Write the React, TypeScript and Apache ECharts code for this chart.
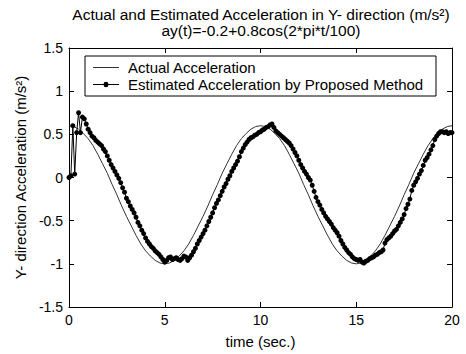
import React, { useEffect, useRef } from "react";
import * as echarts from "echarts";

// ---- data ----
const ACTUAL_STEP = 0.25; // seconds between actual samples
const ESTIMATED_STEP = 0.1; // seconds between estimated samples

const actualValues: number[] = [
  0.6, 0.59, 0.56, 0.51, 0.45, 0.37, 0.27, 0.16, 0.05, -0.08, -0.2, -0.33, -0.45, -0.56, -0.67, -0.77, -0.85, -0.91, -0.96, -0.99, -1.0,
  -0.99, -0.96, -0.91, -0.85, -0.77, -0.67, -0.56, -0.45, -0.33, -0.2, -0.08, 0.05, 0.16, 0.27, 0.37, 0.45, 0.51, 0.56, 0.59, 0.6,
  0.59, 0.56, 0.51, 0.45, 0.37, 0.27, 0.16, 0.05, -0.08, -0.2, -0.33, -0.45, -0.56, -0.67, -0.77, -0.85, -0.91, -0.96, -0.99, -1.0,
  -0.99, -0.96, -0.91, -0.85, -0.77, -0.67, -0.56, -0.45, -0.33, -0.2, -0.08, 0.05, 0.16, 0.27, 0.37, 0.45, 0.51, 0.56, 0.59, 0.6,
];

const estimatedValues: number[] = [
  0.0, 0.02, 0.6, 0.04, 0.52, 0.75, 0.52, 0.7, 0.68, 0.62,
  0.56, 0.52, 0.48, 0.46, 0.43, 0.41, 0.39, 0.37, 0.33, 0.3,
  0.25, 0.2, 0.15, 0.11, 0.07, 0.03, -0.01, -0.06, -0.12, -0.17,
  -0.24, -0.28, -0.33, -0.37, -0.41, -0.46, -0.52, -0.56, -0.61, -0.65,
  -0.7, -0.74, -0.77, -0.8, -0.82, -0.85, -0.87, -0.89, -0.92, -0.95,
  -0.98, -0.96, -0.93, -0.92, -0.95, -0.94, -0.93, -0.95, -0.96, -0.94,
  -0.91, -0.92, -0.96, -0.93, -0.9, -0.86, -0.82, -0.77, -0.73, -0.69,
  -0.65, -0.61, -0.56, -0.51, -0.46, -0.41, -0.35, -0.3, -0.26, -0.21,
  -0.16, -0.11, -0.07, -0.02, 0.02, 0.07, 0.11, 0.15, 0.19, 0.24,
  0.3, 0.34, 0.38, 0.41, 0.44, 0.46, 0.47, 0.49, 0.5, 0.52,
  0.53, 0.55, 0.56, 0.58, 0.59, 0.61, 0.62, 0.58, 0.54, 0.52,
  0.5, 0.48, 0.46, 0.44, 0.42, 0.4, 0.37, 0.33, 0.29, 0.25,
  0.2, 0.15, 0.11, 0.07, 0.04, 0.0, -0.03, -0.09, -0.16, -0.23,
  -0.28, -0.32, -0.37, -0.41, -0.45, -0.48, -0.51, -0.54, -0.58, -0.61,
  -0.64, -0.68, -0.73, -0.77, -0.81, -0.84, -0.87, -0.89, -0.92, -0.94,
  -0.95, -0.96, -0.95, -0.98, -0.99, -0.97, -0.96, -0.94, -0.93, -0.92,
  -0.9, -0.89, -0.87, -0.86, -0.84, -0.76, -0.72, -0.7, -0.68, -0.65,
  -0.62, -0.6, -0.56, -0.52, -0.48, -0.43, -0.36, -0.31, -0.25, -0.15,
  -0.09, -0.05, -0.01, 0.04, 0.08, 0.14, 0.2, 0.23, 0.27, 0.32,
  0.37, 0.44, 0.48, 0.51, 0.53, 0.53, 0.52, 0.53, 0.51, 0.52,
  0.52,
];

const X_MIN = 0;
const X_MAX = 20;
const X_INTERVAL = 5;
const Y_MIN = -1.5;
const Y_MAX = 1.5;
const Y_INTERVAL = 0.5;

const SERIES_NAMES = ["Actual Acceleration", "Estimated Acceleration by Proposed Method"];
const TITLE_LINE_1 = "Actual and Estimated Acceleration in Y- direction (m/s²)";
const TITLE_LINE_2 = "ay(t)=-0.2+0.8cos(2*pi*t/100)";
const X_NAME = "time (sec.)";
const Y_NAME = "Y- direction Acceleration (m/s²)";

const FONT = "'Liberation Sans', Arial, Helvetica, sans-serif";

// legend icons: a plain line, and a line with a dot
const ICON_LINE = "path://M0,0L26,0L26,1L0,1Z";
const ICON_LINE_DOT =
  "path://M0,2.6L10.6,2.6A2.4,2.4,0,0,1,15.4,2.6L26,2.6L26,3.4L15.4,3.4A2.4,2.4,0,0,1,10.6,3.4L0,3.4Z";

export default function App() {
  const ref = useRef<HTMLDivElement | null>(null);

  useEffect(() => {
    if (!ref.current) return;
    const chart = echarts.init(ref.current, undefined, { renderer: "svg" });

    const actualData = actualValues.map((v, i) => [+(i * ACTUAL_STEP).toFixed(2), v]);
    const estimatedData = estimatedValues.map((v, i) => [+(i * ESTIMATED_STEP).toFixed(2), v]);

    const axisLine = { show: true, onZero: false, lineStyle: { color: "#000", width: 1 } };
    const axisTick = { show: true, inside: true, length: 5, lineStyle: { color: "#000", width: 1 } };
    const labelStyle = { color: "#000", fontSize: 14, fontFamily: FONT };
    const bigText = { color: "#000", fontSize: 15, fontFamily: FONT };

    chart.setOption({
      animation: false,
      backgroundColor: "#fff",
      textStyle: { fontFamily: FONT },
      grid: { left: 69, right: 14, top: 48, bottom: 46, containLabel: false },
      graphic: [
        {
          type: "text",
          x: 261,
          y: 14,
          style: {
            text: TITLE_LINE_1,
            fontSize: 15.5,
            fontFamily: FONT,
            fill: "#000",
            align: "center",
            verticalAlign: "middle",
          },
        },
        {
          type: "text",
          x: 261,
          y: 30,
          style: {
            text: TITLE_LINE_2,
            fontSize: 15.5,
            fontFamily: FONT,
            fill: "#000",
            align: "center",
            verticalAlign: "middle",
          },
        },
      ],
      legend: {
        orient: "vertical",
        left: 85,
        top: 56,
        padding: [4, 12, 4, 8],
        itemGap: 2,
        itemWidth: 26,
        itemHeight: 14,
        symbolKeepAspect: true,
        borderColor: "#000",
        borderWidth: 1,
        borderRadius: 0,
        backgroundColor: "#fff",
        textStyle: { ...bigText, padding: [0, 0, 0, 4] },
        data: [
          { name: SERIES_NAMES[0], icon: ICON_LINE },
          { name: SERIES_NAMES[1], icon: ICON_LINE_DOT },
        ],
      },
      xAxis: [
        {
          type: "value",
          min: X_MIN,
          max: X_MAX,
          interval: X_INTERVAL,
          position: "bottom",
          axisLine,
          axisTick,
          axisLabel: { ...labelStyle, margin: 6 },
          splitLine: { show: false },
          name: X_NAME,
          nameLocation: "middle",
          nameGap: 27,
          nameTextStyle: { ...bigText },
        },
        {
          type: "value",
          min: X_MIN,
          max: X_MAX,
          interval: X_INTERVAL,
          position: "top",
          axisLine,
          axisTick,
          axisLabel: { show: false },
          splitLine: { show: false },
        },
      ],
      yAxis: [
        {
          type: "value",
          min: Y_MIN,
          max: Y_MAX,
          interval: Y_INTERVAL,
          position: "left",
          axisLine,
          axisTick,
          axisLabel: { ...labelStyle, margin: 6, formatter: (v: number) => String(v) },
          splitLine: { show: false },
          name: Y_NAME,
          nameLocation: "middle",
          nameGap: 38,
          nameTextStyle: { ...bigText },
        },
        {
          type: "value",
          min: Y_MIN,
          max: Y_MAX,
          interval: Y_INTERVAL,
          position: "right",
          axisLine,
          axisTick,
          axisLabel: { show: false },
          splitLine: { show: false },
        },
      ],
      series: [
        {
          name: SERIES_NAMES[0],
          type: "line",
          xAxisIndex: 0,
          yAxisIndex: 0,
          data: actualData,
          symbol: "none",
          smooth: false,
          lineStyle: { color: "#333", width: 1 },
          itemStyle: { color: "#333" },
          z: 2,
        },
        {
          name: SERIES_NAMES[1],
          type: "line",
          xAxisIndex: 0,
          yAxisIndex: 0,
          data: estimatedData,
          symbol: "circle",
          symbolSize: 5,
          showSymbol: true,
          lineStyle: { color: "#000", width: 1 },
          itemStyle: { color: "#000" },
          z: 3,
        },
      ],
    });

    return () => chart.dispose();
  }, []);

  return (
    <div
      ref={ref}
      style={{ position: "fixed", left: 0, top: 0, width: 466, height: 354, background: "#fff" }}
    />
  );
}
